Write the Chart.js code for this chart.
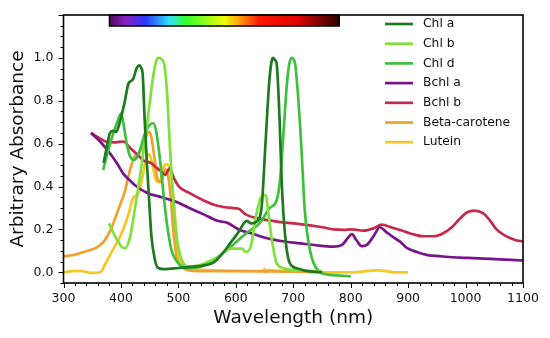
<!DOCTYPE html>
<html>
<head>
<meta charset="utf-8">
<script src="https://cdn.jsdelivr.net/npm/chart.js@4.4.1/dist/chart.umd.min.js"></script>
<style>
    body { margin: 0; background: #fff; }
    canvas { display: block; }
</style>
</head>
<body>
<canvas id="spectraChart" width="550" height="338"></canvas>
<script>
// Absorption spectra of photosynthetic pigments (normalised)
const labels = ['Chl a', 'Chl b', 'Chl d', 'Bchl a', 'Bchl b', 'Beta-carotene', 'Lutein'];
const colors = ['#1f7a1f', '#80e03c', '#3fbf3f', '#78148a', '#c8284a', '#eda22e', '#f4c723'];

const chlA_nm = [370, 375, 381, 386, 392, 397, 401, 407, 413, 421, 427, 432, 435, 438, 441, 445, 449, 453, 459, 465, 475, 500, 520, 540, 561, 572, 584, 590, 600, 607, 613, 619, 627, 636, 645, 651, 658, 662, 665, 668, 671, 676, 680, 686, 694, 706, 720, 750];
const chlA_abs = [0.51, 0.58, 0.65, 0.66, 0.655, 0.69, 0.73, 0.80, 0.88, 0.90, 0.95, 0.965, 0.955, 0.92, 0.73, 0.52, 0.34, 0.17, 0.06, 0.02, 0.015, 0.02, 0.025, 0.03, 0.045, 0.073, 0.112, 0.135, 0.17, 0.197, 0.225, 0.24, 0.228, 0.236, 0.306, 0.57, 0.88, 0.98, 1.0, 0.99, 0.975, 0.726, 0.415, 0.166, 0.042, 0.019, 0.008, 0.0];

const chlB_nm = [379, 384, 390, 396, 401, 407, 416, 424, 433, 442, 450, 456, 462, 466, 470, 475, 480, 485, 491, 497, 506, 517, 530, 544, 568, 592, 605, 611, 617, 626, 635, 644, 652, 657, 662, 671, 683, 700, 750];
const chlB_abs = [0.228, 0.2, 0.166, 0.14, 0.12, 0.112, 0.166, 0.29, 0.446, 0.617, 0.788, 0.912, 0.99, 1.0, 0.995, 0.975, 0.85, 0.60, 0.337, 0.166, 0.057, 0.026, 0.03, 0.04, 0.07, 0.11, 0.11, 0.11, 0.095, 0.12, 0.26, 0.35, 0.36, 0.27, 0.166, 0.042, 0.019, 0.01, 0.005];

const chlD_nm = [369, 378, 387, 395, 400, 404, 410, 416, 424, 433, 442, 450, 456, 462, 468, 474, 480, 488, 500, 517, 544, 568, 592, 617, 642, 659, 671, 677, 683, 689, 693, 697, 703, 709, 715, 720, 726, 732, 740, 751, 775, 800];
const chlD_abs = [0.477, 0.57, 0.65, 0.71, 0.74, 0.70, 0.60, 0.54, 0.524, 0.57, 0.65, 0.687, 0.695, 0.65, 0.524, 0.368, 0.228, 0.104, 0.042, 0.019, 0.03, 0.07, 0.12, 0.18, 0.23, 0.30, 0.335, 0.43, 0.65, 0.88, 0.97, 1.0, 0.975, 0.80, 0.54, 0.29, 0.15, 0.07, 0.02, -0.006, -0.014, -0.019];

const bchlA_nm = [348, 367, 385, 395, 404, 415, 425, 446, 471, 495, 519, 544, 568, 586, 605, 629, 653, 678, 712, 740, 770, 785, 795, 802, 810, 819, 828, 839, 851, 861, 876, 886, 897, 915, 934, 955, 990, 1013, 1060, 1100];
const bchlA_abs = [0.65, 0.60, 0.54, 0.50, 0.46, 0.43, 0.405, 0.37, 0.35, 0.33, 0.30, 0.27, 0.24, 0.23, 0.20, 0.18, 0.16, 0.146, 0.135, 0.126, 0.12, 0.128, 0.16, 0.178, 0.15, 0.122, 0.128, 0.165, 0.21, 0.19, 0.16, 0.143, 0.115, 0.095, 0.08, 0.075, 0.068, 0.066, 0.06, 0.055];

const bchlB_nm = [348, 360, 373, 391, 404, 416, 428, 440, 452, 461, 470, 477, 485, 492, 501, 519, 544, 568, 592, 605, 617, 641, 678, 712, 751, 770, 788, 802, 822, 840, 854, 870, 886, 905, 926, 945, 961, 976, 990, 1003, 1015, 1031, 1043, 1054, 1068, 1085, 1100];
const bchlB_abs = [0.65, 0.63, 0.61, 0.606, 0.61, 0.58, 0.55, 0.52, 0.51, 0.49, 0.47, 0.454, 0.485, 0.44, 0.40, 0.37, 0.335, 0.31, 0.30, 0.296, 0.27, 0.25, 0.234, 0.225, 0.21, 0.2, 0.198, 0.2, 0.194, 0.205, 0.222, 0.21, 0.197, 0.18, 0.168, 0.168, 0.182, 0.21, 0.25, 0.28, 0.288, 0.275, 0.24, 0.2, 0.172, 0.152, 0.143];

const betaCar_nm = [300, 320, 337, 355, 365, 372, 384, 395, 407, 416, 424, 433, 442, 449, 453, 459, 464, 470, 477, 482, 487, 491, 497, 506, 517, 540, 600, 700, 750];
const betaCar_abs = [0.074, 0.082, 0.096, 0.112, 0.13, 0.15, 0.21, 0.29, 0.38, 0.48, 0.54, 0.56, 0.62, 0.655, 0.63, 0.52, 0.43, 0.42, 0.48, 0.45, 0.34, 0.20, 0.07, 0.025, 0.01, 0.005, 0.005, 0.003, 0.003];

const lutein_nm = [300, 315, 330, 349, 364, 373, 385, 401, 413, 422, 431, 437, 445, 449, 455, 461, 467, 474, 480, 486, 492, 498, 504, 519, 556, 617, 648, 650, 652, 655, 678, 739, 800, 848, 879, 900];
const lutein_abs = [0, 0.005, 0.006, -0.003, 0, 0.04, 0.10, 0.18, 0.27, 0.35, 0.37, 0.44, 0.54, 0.55, 0.50, 0.43, 0.42, 0.49, 0.505, 0.47, 0.335, 0.12, 0.04, 0.017, 0.009, 0.006, 0.006, 0.015, 0.0, 0.01, 0.006, 0.0, 0.0, 0.009, 0.0, 0.0];

const series = [
    [chlA_nm, chlA_abs], [chlB_nm, chlB_abs], [chlD_nm, chlD_abs],
    [bchlA_nm, bchlA_abs], [bchlB_nm, bchlB_abs],
    [betaCar_nm, betaCar_abs], [lutein_nm, lutein_abs]
];

const xTicks = { min: 300, max: 1100, major: 100, minor: 20 };
const yTicks = { min: -0.05, max: 1.2, major: 0.2, minor: 0.05, lastLabel: 1.0 };
const spectrumRange = [380, 780];

const FONT = "'DejaVu Sans', 'Liberation Sans', sans-serif";

function isMultiple(v, step) {
    const r = v / step;
    return Math.abs(r - Math.round(r)) < 1e-6;
}

// visible spectrum strip along the top of the plot
const spectrumBar = {
    id: 'spectrumBar',
    afterDatasetsDraw(chart) {
        const { ctx, scales: { x }, chartArea } = chart;
        const x0 = x.getPixelForValue(spectrumRange[0]);
        const x1 = x.getPixelForValue(spectrumRange[1]);
        const top = chartArea.top;
        const h = 11;
        const g = ctx.createLinearGradient(x0, 0, x1, 0);
        [[0, '#4a0a60'], [0.07, '#8a20c0'], [0.16, '#2a3cff'], [0.26, '#30e0ff'],
         [0.33, '#30ff30'], [0.5, '#f0ff00'], [0.57, '#ff9a00'], [0.65, '#ff1a00'],
         [0.82, '#e00000'], [1, '#2a0000']].forEach(([p, c]) => g.addColorStop(p, c));
        ctx.save();
        ctx.fillStyle = g;
        ctx.fillRect(x0, top, x1 - x0, h);
        ctx.strokeStyle = '#000';
        ctx.lineWidth = 1.5;
        ctx.strokeRect(x0, top, x1 - x0, h);
        ctx.restore();
    }
};

// frame, tick marks and legend
const frameAndTicks = {
    id: 'frameAndTicks',
    afterDraw(chart) {
        const { ctx, chartArea: a, scales: { x, y } } = chart;
        ctx.save();
        ctx.strokeStyle = '#000';
        ctx.lineWidth = 1;
        x.ticks.forEach(t => {
            if (!isMultiple(t.value - xTicks.min, xTicks.minor)) return;
            const px = Math.round(x.getPixelForValue(t.value)) + 0.5;
            const len = isMultiple(t.value, xTicks.major) ? 5 : 3;
            ctx.beginPath();
            ctx.moveTo(px, a.bottom);
            ctx.lineTo(px, a.bottom + len);
            ctx.stroke();
        });
        y.ticks.forEach(t => {
            if (!isMultiple(t.value, yTicks.minor)) return;
            const py = Math.round(y.getPixelForValue(t.value)) + 0.5;
            const len = isMultiple(t.value, yTicks.major) ? 5 : 3;
            ctx.beginPath();
            ctx.moveTo(a.left, py);
            ctx.lineTo(a.left - len, py);
            ctx.stroke();
        });
        ctx.lineWidth = 1.6;
        ctx.strokeRect(a.left, a.top, a.right - a.left, a.bottom - a.top);

        // legend
        ctx.font = '12.3px ' + FONT;
        ctx.textBaseline = 'middle';
        ctx.textAlign = 'left';
        chart.data.datasets.forEach((ds, i) => {
            const ly = a.top + 9 + i * 19.7;
            ctx.strokeStyle = ds.borderColor;
            ctx.lineWidth = 2.7;
            ctx.beginPath();
            ctx.moveTo(385, ly);
            ctx.lineTo(413, ly);
            ctx.stroke();
            ctx.fillStyle = '#111';
            ctx.fillText(ds.label, 423, ly);
        });
        ctx.restore();
    }
};

new Chart(document.getElementById('spectraChart'), {
    type: 'line',
    data: {
        datasets: series.map(([nm, abs], i) => ({
            label: labels[i],
            data: nm.map((w, j) => ({ x: w, y: abs[j] })),
            borderColor: colors[i],
            borderWidth: 2.7,
            pointRadius: 0,
            cubicInterpolationMode: 'monotone',
            fill: false
        }))
    },
    options: {
        responsive: false,
        animation: false,
        devicePixelRatio: 1,
        layout: { padding: { top: 15, right: 27, left: 0, bottom: 0 } },
        plugins: { legend: { display: false }, tooltip: { enabled: false } },
        scales: {
            x: {
                type: 'linear',
                min: xTicks.min,
                max: xTicks.max,
                grid: { display: false, drawTicks: false, tickLength: 0 },
                border: { display: false },
                ticks: {
                    stepSize: xTicks.minor,
                    autoSkip: false,
                    maxRotation: 0,
                    padding: 8,
                    color: '#111',
                    font: { family: FONT, size: 12.5 },
                    callback: v => isMultiple(v, xTicks.major) ? String(v) : ''
                },
                title: {
                    display: true,
                    text: 'Wavelength (nm)',
                    color: '#111',
                    font: { family: FONT, size: 18.5 },
                    padding: { top: 0, bottom: 9 }
                },
                afterFit: s => { s.height = 55; }
            },
            y: {
                min: yTicks.min,
                max: yTicks.max,
                grid: { display: false, drawTicks: false, tickLength: 0 },
                border: { display: false },
                ticks: {
                    stepSize: yTicks.minor,
                    autoSkip: false,
                    padding: 10,
                    color: '#111',
                    font: { family: FONT, size: 12.5, lineHeight: 0.8 },
                    callback: v => (isMultiple(v, yTicks.major) && v >= 0 && v <= yTicks.lastLabel + 1e-6) ? v.toFixed(1) : ''
                },
                title: {
                    display: true,
                    text: 'Arbitrary Absorbance',
                    color: '#111',
                    font: { family: FONT, size: 18.5 },
                    padding: { top: 7, bottom: 0 }
                },
                afterFit: s => { s.width = 63.5; }
            }
        }
    },
    plugins: [spectrumBar, frameAndTicks]
});
</script>
</body>
</html>
